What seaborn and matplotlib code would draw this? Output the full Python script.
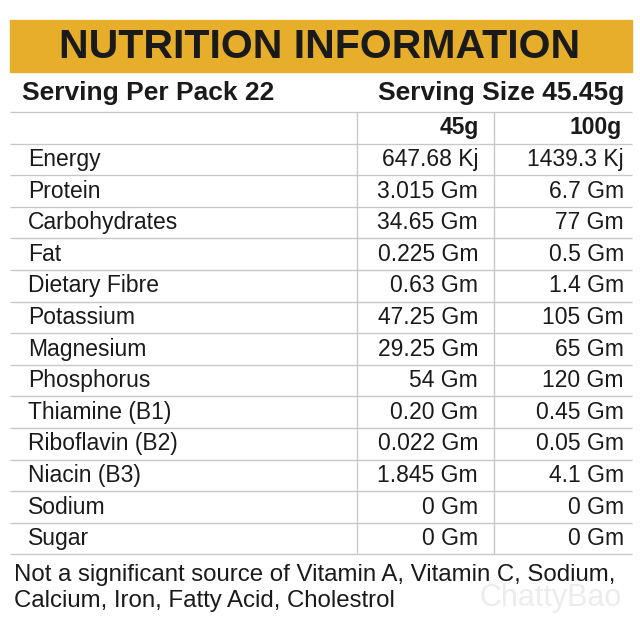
import matplotlib
matplotlib.use("Agg")
import matplotlib.pyplot as plt
import seaborn as sns

sns.set_theme(style="white")
plt.rcParams['font.family'] = ['Liberation Sans', 'DejaVu Sans']

title = "NUTRITION INFORMATION"
serving_left = "Serving Per Pack 22"
serving_right = "Serving Size 45.45g"
col_heads = ["45g", "100g"]
nutrients = ["Energy", "Protein", "Carbohydrates", "Fat", "Dietary Fibre", "Potassium",
             "Magnesium", "Phosphorus", "Thiamine (B1)", "Riboflavin (B2)", "Niacin (B3)",
             "Sodium", "Sugar"]
per_45g = ["647.68 Kj", "3.015 Gm", "34.65 Gm", "0.225 Gm", "0.63 Gm", "47.25 Gm",
           "29.25 Gm", "54 Gm", "0.20 Gm", "0.022 Gm", "1.845 Gm", "0 Gm", "0 Gm"]
per_100g = ["1439.3 Kj", "6.7 Gm", "77 Gm", "0.5 Gm", "1.4 Gm", "105 Gm",
            "65 Gm", "120 Gm", "0.45 Gm", "0.05 Gm", "4.1 Gm", "0 Gm", "0 Gm"]
footnote = ["Not a significant source of Vitamin A, Vitamin C, Sodium,",
            "Calcium, Iron, Fatty Acid, Cholestrol"]

fig = plt.figure(figsize=(6.4, 6.4), dpi=100)
ax = fig.add_axes([0, 0, 1, 1])
ax.set_xlim(0, 640)
ax.set_ylim(640, 0)
ax.axis("off")

ink = "#1a1a1a"
# header band
ax.add_patch(plt.Rectangle((10, 20), 622, 52, color="#E6AE2B", zorder=0))
ax.text(320, 47, title, ha="center", va="center", fontsize=29.5, fontweight="bold", color=ink)

ax.text(22, 93, serving_left, ha="left", va="center", fontsize=19, fontweight="bold", color=ink)
ax.text(624, 93, serving_right, ha="right", va="center", fontsize=19, fontweight="bold", color=ink)

grid = "#c8c8c8"
top = 112
row_h = 31.6
n = len(nutrients)
ys = [top + row_h * (i + 1) for i in range(n + 1)]
ax.hlines([top] + ys, 10, 632, color=grid, lw=1)
ax.vlines([357, 494], top, ys[-1], color=grid, lw=1)

ax.text(479, top + row_h / 2, col_heads[0], ha="right", va="center", fontsize=16.5, fontweight="bold", color=ink)
ax.text(622, top + row_h / 2, col_heads[1], ha="right", va="center", fontsize=16.5, fontweight="bold", color=ink)

for i, (name, a, b) in enumerate(zip(nutrients, per_45g, per_100g)):
    y = ys[i] + row_h / 2
    ax.text(28, y, name, ha="left", va="center", fontsize=16.5, color=ink)
    ax.text(478, y, a, ha="right", va="center", fontsize=16.5, color=ink)
    ax.text(624, y, b, ha="right", va="center", fontsize=16.5, color=ink)

ax.text(14, 575, footnote[0], ha="left", va="center", fontsize=17.3, color=ink)
ax.text(14, 601, footnote[1], ha="left", va="center", fontsize=17.3, color=ink)
ax.text(622, 598, "ChattyBao", ha="right", va="center", fontsize=22, color="#ececec")

fig.savefig("out.png", dpi=100, facecolor="white")
